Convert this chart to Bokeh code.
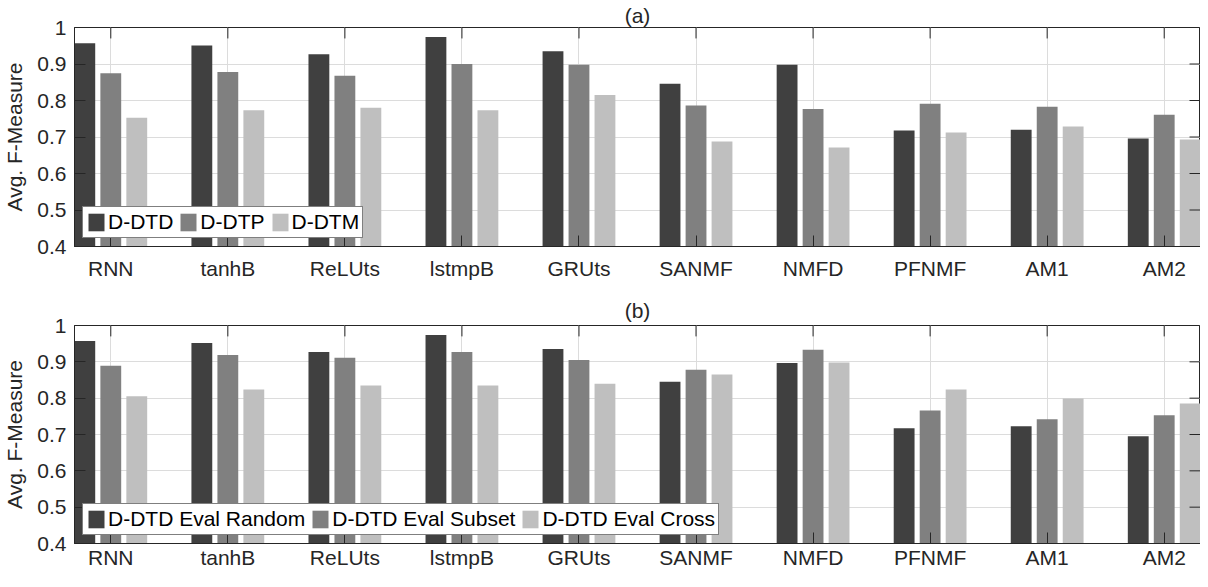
from bokeh.plotting import figure
from bokeh.models import (Range1d, FixedTicker, CustomJSTickFormatter,
                          Legend, LegendItem, ColumnDataSource)
from bokeh.transform import dodge
from bokeh.layouts import column
from bokeh.embed import file_html
from bokeh.resources import INLINE

# ---------------- data ----------------
categories = ["RNN", "tanhB", "ReLUts", "lstmpB", "GRUts", "SANMF", "NMFD", "PFNMF", "AM1", "AM2"]

a_labels = ["D-DTD", "D-DTP", "D-DTM"]
a_dtd = [0.957, 0.951, 0.927, 0.974, 0.935, 0.846, 0.898, 0.718, 0.720, 0.696]
a_dtp = [0.875, 0.878, 0.868, 0.900, 0.898, 0.786, 0.777, 0.791, 0.783, 0.761]
a_dtm = [0.753, 0.773, 0.780, 0.773, 0.815, 0.688, 0.671, 0.712, 0.729, 0.693]

b_labels = ["D-DTD Eval Random", "D-DTD Eval Subset", "D-DTD Eval Cross"]
b_random = [0.957, 0.952, 0.927, 0.974, 0.935, 0.845, 0.897, 0.717, 0.723, 0.695]
b_subset = [0.889, 0.919, 0.911, 0.927, 0.905, 0.878, 0.933, 0.766, 0.742, 0.753]
b_cross = [0.805, 0.824, 0.835, 0.835, 0.840, 0.865, 0.898, 0.824, 0.799, 0.785]

y_ticks = [0.4, 0.5, 0.6, 0.7, 0.8, 0.9, 1.0]
y_label = "Avg. F-Measure"
# ---------------------------------------

COLORS = ["#404040", "#808080", "#bfbfbf"]
FONT = "Liberation Sans"
TXT = "#262626"
FS = "21px"
FIG_W = 1200
LEFT = 72
FRAME_H = 220
TICK = 11


def style_axis(ax):
    ax.major_tick_in = TICK
    ax.major_tick_out = 0
    ax.minor_tick_in = 0
    ax.minor_tick_out = 0
    ax.axis_line_color = TXT
    ax.major_tick_line_color = TXT
    ax.major_label_text_font = FONT
    ax.major_label_text_font_size = FS
    ax.major_label_text_color = TXT
    ax.axis_label_text_font = FONT
    ax.axis_label_text_font_size = FS
    ax.axis_label_text_font_style = "normal"
    ax.axis_label_text_color = TXT


def make_panel(title_text, series, names, height, top, bottom, title_standoff, xlab_standoff):
    xs = list(range(1, len(categories) + 1))
    x0, x1 = 0.69, len(categories) + 0.31
    y0, y1 = y_ticks[0], y_ticks[-1]
    src = ColumnDataSource(dict(x=xs, s0=series[0], s1=series[1], s2=series[2]))
    p = figure(width=FIG_W, height=height,
               x_range=Range1d(x0, x1), y_range=Range1d(y0, y1),
               output_backend="svg", toolbar_location=None,
               min_border_left=LEFT, min_border_right=0,
               min_border_top=top, min_border_bottom=bottom)
    p.background_fill_color = "white"
    p.border_fill_color = "white"
    p.outline_line_color = TXT

    p.title.text = title_text
    p.title.align = "center"
    p.title.text_font = FONT
    p.title.text_font_size = FS
    p.title.text_font_style = "normal"
    p.title.text_color = TXT
    p.title.standoff = title_standoff

    xticker = FixedTicker(ticks=xs)
    yticker = FixedTicker(ticks=y_ticks)
    xfmt = CustomJSTickFormatter(args=dict(cats=categories),
                                 code="return cats[Math.round(tick) - 1];")
    yfmt = CustomJSTickFormatter(code="return String(Math.round(tick * 10) / 10);")

    xa = p.xaxis[0]
    xa.ticker = xticker
    xa.formatter = xfmt
    style_axis(xa)
    xa.major_label_standoff = xlab_standoff

    ya = p.yaxis[0]
    ya.ticker = yticker
    ya.formatter = yfmt
    style_axis(ya)
    ya.axis_label = y_label
    ya.major_label_standoff = 8
    ya.axis_label_standoff = 8

    p.xgrid.grid_line_color = "#dcdcdc"
    p.ygrid.grid_line_color = "#dcdcdc"
    p.xgrid.ticker = xticker
    p.ygrid.ticker = yticker

    offsets = [-0.222, 0.0, 0.222]
    renderers = []
    for i in range(3):
        r = p.vbar(x=dodge("x", offsets[i], range=p.x_range), top="s%d" % i, bottom=0,
                   width=0.178, source=src, fill_color=COLORS[i], line_color=None)
        renderers.append(r)

    # inward tick marks on the top and right edges of the box (tick length as data span)
    dx = (x1 - x0) * TICK / (FIG_W - LEFT)
    dy = (y1 - y0) * TICK / FRAME_H
    p.segment(x0=xs, y0=[y1] * len(xs), x1=xs, y1=[y1 - dy] * len(xs),
              line_color=TXT, line_width=1)
    p.segment(x0=[x1] * len(y_ticks), y0=y_ticks, x1=[x1 - dx] * len(y_ticks), y1=y_ticks,
              line_color=TXT, line_width=1)

    legend = Legend(items=[LegendItem(label=names[i], renderers=[renderers[i]]) for i in range(3)],
                    orientation="horizontal", location="bottom_left")
    legend.label_text_font = FONT
    legend.label_text_font_size = FS
    legend.label_text_color = "black"
    legend.glyph_width = 20
    legend.glyph_height = 22
    legend.label_standoff = 2
    legend.spacing = 5
    legend.padding = 3
    legend.margin = 8
    legend.border_line_color = "black"
    legend.border_line_width = 1
    legend.background_fill_color = "white"
    legend.background_fill_alpha = 1.0
    p.add_layout(legend)
    return p


pa = make_panel("(a)", [a_dtd, a_dtp, a_dtm], a_labels, 290, 26, 44, 2, 10)
pb = make_panel("(b)", [b_random, b_subset, b_cross], b_labels, 281, 35, 26, 8, 2)

layout = column(pa, pb)
open("out.html", "w").write(file_html(layout, INLINE))
